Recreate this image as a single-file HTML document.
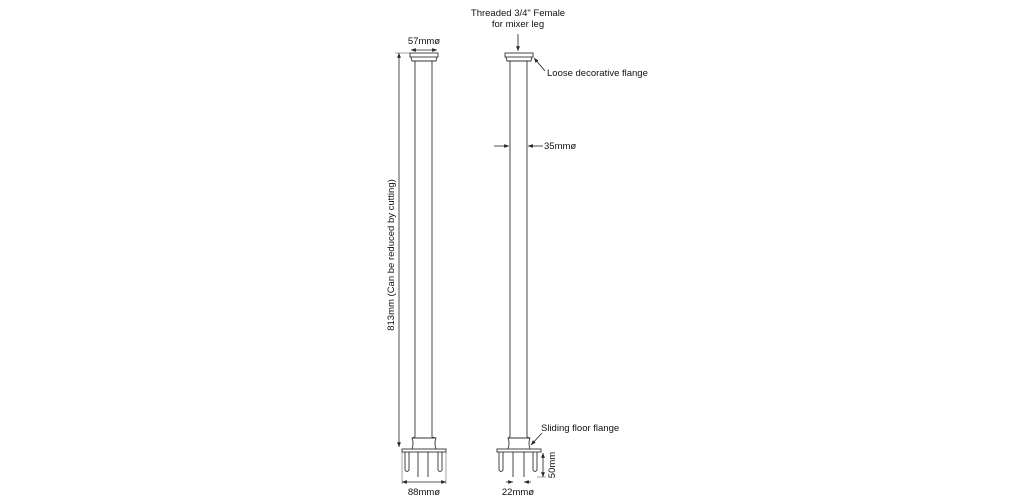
<!DOCTYPE html>
<html><head><style>
body{margin:0;background:#fff;}
svg{display:block;}
text{font-family:"Liberation Sans",sans-serif;font-size:9.5px;fill:#111;}
</style></head><body>
<svg width="1024" height="500" viewBox="0 0 1024 500" xmlns="http://www.w3.org/2000/svg">
<defs>
<marker id="a" viewBox="0 0 10 10" refX="10" refY="5" markerWidth="6" markerHeight="6" orient="auto-start-reverse"><path d="M0,1 L10,5 L0,9 z" fill="#222"/></marker>
</defs>
<g stroke="#333" stroke-width="0.9" fill="none">
<!-- left post -->
<rect x="410" y="53" width="28" height="4"/>
<path d="M411,57 L412,61 L436,61 L437,57"/>
<line x1="415" y1="61" x2="415" y2="437"/>
<line x1="432" y1="61" x2="432" y2="437"/>
<path d="M415,437 L412,438 Q414,443 412,449 M432,437 L436,438 Q434,443 436,449"/>
<line x1="412" y1="438" x2="436" y2="438"/>
<rect x="402" y="449" width="44" height="3"/>
<path d="M405,452 V470 Q407,473 409,470 V452"/>
<path d="M438,452 V470 Q440,473 442,470 V452"/>
<line x1="418" y1="452" x2="418" y2="477"/>
<line x1="428" y1="452" x2="428" y2="477"/>
<!-- right post -->
<rect x="505" y="53" width="28" height="4"/>
<path d="M506,57 L507,61 L531,61 L532,57"/>
<line x1="510" y1="61" x2="510" y2="437"/>
<line x1="527" y1="61" x2="527" y2="437"/>
<path d="M510,437 L508,438 Q510,443 508,449 M527,437 L530,438 Q528,443 530,449"/>
<line x1="508" y1="438" x2="530" y2="438"/>
<rect x="497" y="449" width="44" height="3"/>
<path d="M499,452 V470 Q501,473 503,470 V452"/>
<path d="M533,452 V470 Q535,473 537,470 V452"/>
<line x1="513" y1="452" x2="513" y2="477"/>
<line x1="524" y1="452" x2="524" y2="477"/>
</g>
<g stroke="#222" stroke-width="0.8" fill="none">
<line x1="411" y1="50" x2="437" y2="50" marker-start="url(#a)" marker-end="url(#a)"/>
<line x1="399" y1="53" x2="399" y2="447" marker-start="url(#a)" marker-end="url(#a)"/>
<line x1="395" y1="53" x2="410" y2="53" stroke-width="0.4"/>
<line x1="402" y1="482" x2="446" y2="482" marker-start="url(#a)" marker-end="url(#a)"/>
<line x1="402" y1="452" x2="402" y2="484" stroke-width="0.4"/>
<line x1="446" y1="452" x2="446" y2="484" stroke-width="0.4"/>
<line x1="518" y1="34" x2="518" y2="51" marker-end="url(#a)"/>
<line x1="545" y1="71" x2="534" y2="58" marker-end="url(#a)"/>
<line x1="494" y1="146" x2="509" y2="146" marker-end="url(#a)"/>
<line x1="543" y1="146" x2="528" y2="146" marker-end="url(#a)"/>
<line x1="542" y1="433" x2="531" y2="445" marker-end="url(#a)"/>
<line x1="543" y1="453" x2="543" y2="477" marker-start="url(#a)" marker-end="url(#a)"/>
<line x1="537" y1="477" x2="546" y2="477" stroke-width="0.4"/>
<line x1="506" y1="482" x2="513" y2="482" marker-end="url(#a)"/>
<line x1="531" y1="482" x2="524" y2="482" marker-end="url(#a)"/>
</g>
<text x="424" y="44" text-anchor="middle">57mmø</text>
<text x="518" y="16" text-anchor="middle">Threaded 3/4" Female</text>
<text x="518" y="27" text-anchor="middle">for mixer leg</text>
<text x="547" y="76">Loose decorative flange</text>
<text x="544" y="149">35mmø</text>
<text x="541" y="431">Sliding floor flange</text>
<text x="424" y="495" text-anchor="middle">88mmø</text>
<text x="518" y="495" text-anchor="middle">22mmø</text>
<text transform="translate(555,465) rotate(-90)" text-anchor="middle">50mm</text>
<text transform="translate(394,255) rotate(-90)" text-anchor="middle">813mm (Can be reduced by cutting)</text>
</svg>
</body></html>
